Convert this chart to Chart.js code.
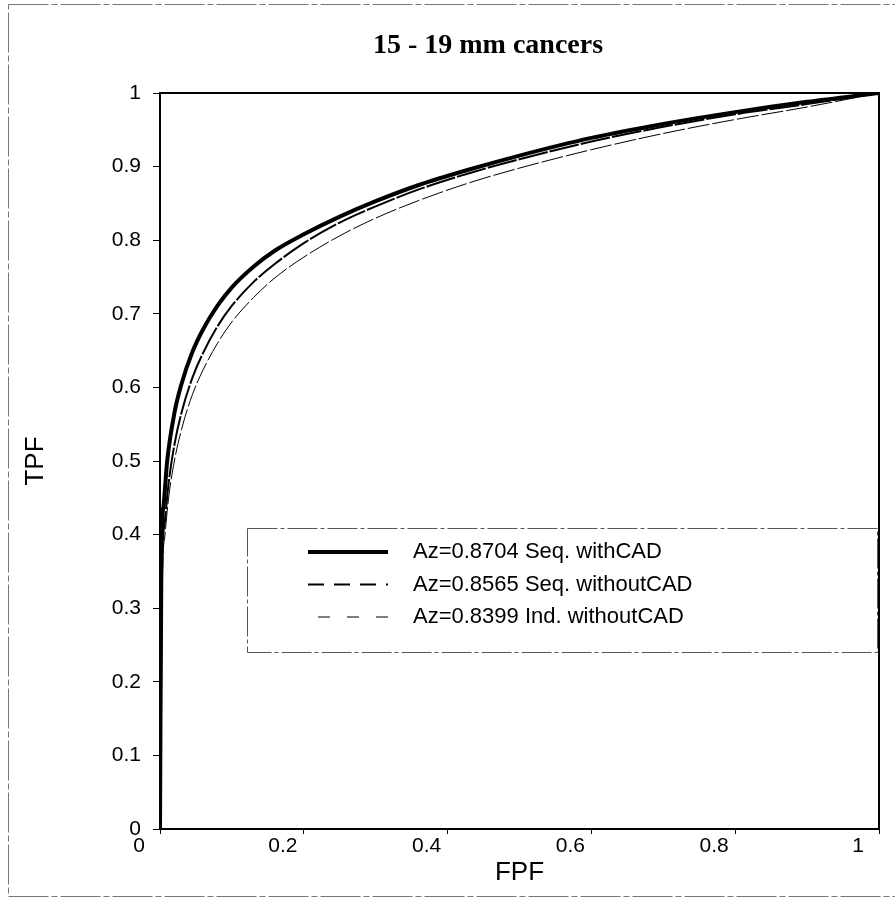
<!DOCTYPE html>
<html>
<head>
<meta charset="utf-8">
<script src="https://cdn.jsdelivr.net/npm/chart.js@4.4.0/dist/chart.umd.min.js"></script>
<style>
  body { margin: 0; background: #fff; }
  #wrap { width: 895px; height: 900px; }
</style>
</head>
<body>
<div id="wrap"><canvas id="rocChart" width="895" height="900"></canvas></div>
<script>
// ROC curves (FPF -> TPF)
const fpfWith = [0, 0.002, 0.005, 0.01, 0.02, 0.03, 0.045, 0.06, 0.08, 0.1, 0.13, 0.16, 0.2, 0.25, 0.3, 0.36, 0.43, 0.5, 0.6, 0.7, 0.8, 0.9, 1];
const tpfWith = [0, 0.38, 0.44, 0.50, 0.565, 0.605, 0.648, 0.679, 0.711, 0.736, 0.764, 0.786, 0.808, 0.832, 0.853, 0.875, 0.896, 0.915, 0.939, 0.958, 0.974, 0.988, 1];

const fpfSeqWithout = [0, 0.003, 0.007, 0.012, 0.02, 0.03, 0.045, 0.06, 0.08, 0.1, 0.13, 0.16, 0.2, 0.25, 0.3, 0.36, 0.43, 0.5, 0.6, 0.7, 0.8, 0.9, 1];
const tpfSeqWithout = [0, 0.35, 0.42, 0.47, 0.522, 0.566, 0.613, 0.647, 0.683, 0.711, 0.743, 0.768, 0.796, 0.824, 0.846, 0.869, 0.891, 0.91, 0.934, 0.954, 0.971, 0.985, 1];

const fpfIndWithout = [0, 0.003, 0.007, 0.012, 0.02, 0.03, 0.045, 0.06, 0.08, 0.1, 0.13, 0.16, 0.2, 0.25, 0.3, 0.36, 0.43, 0.5, 0.6, 0.7, 0.8, 0.9, 1];
const tpfIndWithout = [0, 0.33, 0.40, 0.45, 0.50, 0.543, 0.59, 0.624, 0.66, 0.689, 0.722, 0.749, 0.777, 0.806, 0.83, 0.854, 0.878, 0.898, 0.923, 0.945, 0.964, 0.981, 1];

const seriesLabels = ["Az=0.8704 Seq. withCAD", "Az=0.8565 Seq. withoutCAD", "Az=0.8399 Ind. withoutCAD"];
const chartTitle = "15 - 19 mm cancers";
const xTicks = [0, 0.2, 0.4, 0.6, 0.8, 1];
const yTicks = [0, 0.1, 0.2, 0.3, 0.4, 0.5, 0.6, 0.7, 0.8, 0.9, 1];

function toPoints(xs, ys) {
  return xs.map((x, i) => ({ x: x, y: ys[i] }));
}

// legend dash look (the legend sample dashes are coarser than on the curves)
const legendStyles = [
  { width: 4, dash: [], start: 0 },
  { width: 2, dash: [16, 10], start: 0 },
  { width: 1, dash: [12, 17], start: 10 }
];

// outer border, title, plot frame and the legend box
const framePlugin = {
  id: 'framePlugin',
  beforeDraw(chart) {
    const ctx = chart.ctx;
    ctx.save();
    ctx.strokeStyle = '#777';
    ctx.lineWidth = 1;
    ctx.setLineDash([40, 3, 6, 3]);
    ctx.strokeRect(8.5, 4.5, 900, 892);
    ctx.setLineDash([]);

    ctx.fillStyle = '#000';
    ctx.font = 'bold 28px "Liberation Serif", "Times New Roman", serif';
    ctx.textAlign = 'center';
    ctx.textBaseline = 'middle';
    ctx.fillText(chartTitle, 488, 46);
    ctx.restore();
  },
  afterDraw(chart) {
    const ctx = chart.ctx;
    const a = chart.chartArea;
    ctx.save();
    ctx.strokeStyle = '#000';
    ctx.lineWidth = 2;
    ctx.beginPath();
    ctx.moveTo(a.left, a.top);
    ctx.lineTo(a.right, a.top);
    ctx.lineTo(a.right, a.bottom);
    ctx.stroke();

    // legend box
    const bx = 247, by = 528, bw = 630, bh = 124;
    ctx.fillStyle = '#fff';
    ctx.fillRect(bx, by, bw, bh);
    ctx.strokeStyle = '#555';
    ctx.lineWidth = 1;
    ctx.setLineDash([30, 3, 4, 3]);
    ctx.strokeRect(bx + 0.5, by + 0.5, bw, bh);

    ctx.font = '22px "Liberation Sans", Arial, sans-serif';
    ctx.textBaseline = 'middle';
    ctx.fillStyle = '#000';
    seriesLabels.forEach((lab, i) => {
      const yy = by + 24 + i * 32.5;
      ctx.strokeStyle = '#000';
      ctx.lineWidth = legendStyles[i].width;
      ctx.setLineDash(legendStyles[i].dash);
      ctx.beginPath();
      ctx.moveTo(bx + 61 + legendStyles[i].start, yy);
      ctx.lineTo(bx + 141, yy);
      ctx.stroke();
      ctx.fillText(lab, bx + 166, yy);
    });
    ctx.restore();
  }
};

const chart_canvas = document.getElementById('rocChart');

new Chart(chart_canvas, {
  type: 'scatter',
  data: {
    datasets: [
      {
        label: seriesLabels[2],
        data: toPoints(fpfIndWithout, tpfIndWithout),
        showLine: true,
        borderColor: '#000',
        borderWidth: 1,
        borderDash: [22, 3],
        borderJoinStyle: 'round',
        pointRadius: 0,
        cubicInterpolationMode: 'monotone'
      },
      {
        label: seriesLabels[1],
        data: toPoints(fpfSeqWithout, tpfSeqWithout),
        showLine: true,
        borderColor: '#000',
        borderWidth: 2,
        borderDash: [30, 2],
        borderJoinStyle: 'round',
        pointRadius: 0,
        cubicInterpolationMode: 'monotone'
      },
      {
        label: seriesLabels[0],
        data: toPoints(fpfWith, tpfWith),
        showLine: true,
        borderColor: '#000',
        borderWidth: 4,
        borderJoinStyle: 'round',
        pointRadius: 0,
        cubicInterpolationMode: 'monotone'
      }
    ]
  },
  options: {
    responsive: false,
    animation: false,
    layout: { padding: { left: 0, right: 16, top: 93, bottom: 0 } },
    plugins: {
      legend: { display: false },
      tooltip: { enabled: false },
      title: { display: false }
    },
    scales: {
      x: {
        type: 'linear',
        min: 0,
        max: 1,
        afterBuildTicks(scale) { scale.ticks = xTicks.map(v => ({ value: v })); },
        afterFit(scale) { scale.height = 71; },
        ticks: {
          color: '#000',
          font: { family: '"Liberation Sans", Arial, sans-serif', size: 21 },
          padding: 0,
          labelOffset: -21,
          maxRotation: 0,
          callback: (v) => String(v)
        },
        grid: { drawOnChartArea: false, color: '#000', tickLength: 5 },
        border: { color: '#000', width: 2 },
        title: {
          display: true,
          text: 'FPF',
          color: '#000',
          font: { family: '"Liberation Sans", Arial, sans-serif', size: 26 },
          padding: { top: 4, bottom: 12 }
        }
      },
      y: {
        type: 'linear',
        min: 0,
        max: 1,
        afterBuildTicks(scale) { scale.ticks = yTicks.map(v => ({ value: v })); },
        afterFit(scale) { scale.width = 160; },
        ticks: {
          color: '#000',
          font: { family: '"Liberation Sans", Arial, sans-serif', size: 21 },
          padding: 12,
          callback: (v) => String(v)
        },
        grid: { drawOnChartArea: false, color: '#000', tickLength: 7 },
        border: { color: '#000', width: 2 },
        title: {
          display: true,
          text: 'TPF',
          color: '#000',
          font: { family: '"Liberation Sans", Arial, sans-serif', size: 26 },
          padding: { top: 20, bottom: 0 }
        }
      }
    }
  },
  plugins: [framePlugin]
});
</script>
</body>
</html>
